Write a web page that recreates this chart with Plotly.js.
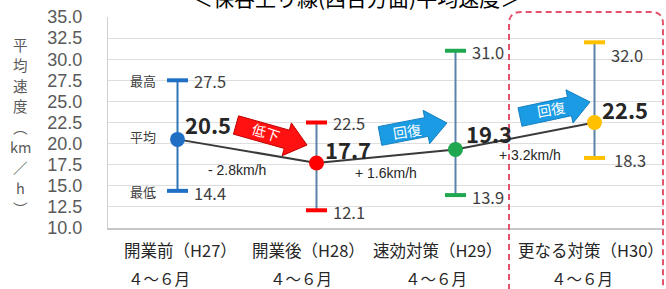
<!DOCTYPE html>
<html><head><meta charset="utf-8">
<script src="https://cdn.plot.ly/plotly-3.0.1.min.js"></script>
<style>html,body{margin:0;padding:0;background:#fff;}#chart{width:666px;height:289px;}</style>
</head><body><div id="chart"></div>
<script>
// ---- data ----
const categories = ['開業前（H27）', '開業後（H28）', '速効対策（H29）', '更なる対策（H30）'];
const periods = ['４～６月', '４～６月', '４～６月', '４～６月'];
const avgSpeed = [20.5, 17.7, 19.3, 22.5];
const maxSpeed = [27.5, 22.5, 31.0, 32.0];
const minSpeed = [14.4, 12.1, 13.9, 18.3];
const changeLabels = ['- 2.8km/h', '+ 1.6km/h', '+ 3.2km/h'];
const arrowLabels = ['低下', '回復', '回復'];
const yTickVals = [10, 12.5, 15, 17.5, 20, 22.5, 25, 27.5, 30, 32.5, 35];
const titleText = '＜保谷上り線(西台方面)平均速度＞';
const yTitleChars = ['平', '均', '速', '度', '︵', 'km', '／', 'h', '︶'];

// ---- styles ----
const FONT = '"Noto Sans CJK JP", "Noto Sans", sans-serif';
const pointColors = ['#1f6fc5', '#ff0000', '#1fa84f', '#ffc000'];
const stemColors = ['#2e75b6', '#5b82ab', '#5b82ab', '#5b82ab'];
const L = 108, T = 17, W = 556, H = 211;
const X0 = -0.5, X1 = 3.5, Y0 = 10, Y1 = 35;
const px2x = p => X0 + (p - L) / W * (X1 - X0);
const py2y = p => Y0 + (T + H - p) / H * (Y1 - Y0);

const idx = categories.map((_, i) => i);
const traces = [];
idx.forEach(i => {
  traces.push({
    x: [i], y: [avgSpeed[i]], type: 'scatter', mode: 'markers',
    marker: {size: 1, color: 'rgba(0,0,0,0)'},
    error_y: {type: 'data', symmetric: false, array: [maxSpeed[i] - avgSpeed[i]],
      arrayminus: [avgSpeed[i] - minSpeed[i]], color: stemColors[i], thickness: 2, width: 0},
    hoverinfo: 'skip', showlegend: false
  });
  traces.push({
    x: [i, i], y: [maxSpeed[i], minSpeed[i]], type: 'scatter', mode: 'markers',
    marker: {symbol: 'line-ew', size: 15, line: {color: pointColors[i], width: 4}},
    hoverinfo: 'skip', showlegend: false
  });
});
traces.push({
  x: idx, y: avgSpeed, type: 'scatter', mode: 'lines+markers',
  line: {color: '#3a3a3a', width: 2},
  marker: {size: 15, color: pointColors},
  showlegend: false
});

// arrows (pixel geometry -> data coords)
function arrowPath(tx, ty, hx, hy, w, hw, hl) {
  const dx = hx - tx, dy = hy - ty, len = Math.hypot(dx, dy);
  const ux = dx / len, uy = dy / len, nx = -uy, ny = ux;
  const kx = hx - ux * hl, ky = hy - uy * hl;
  const pts = [[tx + nx * w, ty + ny * w], [kx + nx * w, ky + ny * w], [kx + nx * hw, ky + ny * hw],
    [hx, hy], [kx - nx * hw, ky - ny * hw], [kx - nx * w, ky - ny * w], [tx - nx * w, ty - ny * w]];
  return 'M' + pts.map(p => px2x(p[0]).toFixed(4) + ',' + py2y(p[1]).toFixed(4)).join(' L') + ' Z';
}
const arrowGeom = [
  {t: [236, 125], h: [307, 145], fill: '#ff1111', line: '#c00000', text: [266, 132], ang: 18},
  {t: [380, 136], h: [447, 123], fill: '#1b9be3', line: '#1480c0', text: [407, 131], ang: -9},
  {t: [520, 117], h: [590, 102], fill: '#1b9be3', line: '#1480c0', text: [551, 109], ang: -10}
];
const shapes = arrowGeom.map(a => ({
  type: 'path', xref: 'x', yref: 'y', layer: 'above',
  path: arrowPath(a.t[0], a.t[1], a.h[0], a.h[1], 9.5, 17, 21),
  fillcolor: a.fill, line: {color: a.line, width: 1}
}));
// dashed rounded frame
(function () {
  const pxp = p => (p - L) / W, pyp = p => (T + H - p) / H;
  const l = 509, r = 663, t = 12, b = 320, rad = 12;
  const path = `M${pxp(l)},${pyp(b)} L${pxp(l)},${pyp(t + rad)} Q${pxp(l)},${pyp(t)} ${pxp(l + rad)},${pyp(t)} ` +
    `L${pxp(r - rad)},${pyp(t)} Q${pxp(r)},${pyp(t)} ${pxp(r)},${pyp(t + rad)} L${pxp(r)},${pyp(b)}`;
  shapes.push({type: 'path', xref: 'paper', yref: 'paper', path: path,
    line: {color: '#e4526c', width: 2, dash: '6px,4px'}, layer: 'above'});
})();

const ann = [];
const valFont = {family: FONT, size: 16.5, color: '#404040'};
const valShiftX = [5, 6, 8, 5], valShiftY = [15, 14, 17, 14];
const maxShiftY = [-1, 0, -1, -13];
idx.forEach(i => {
  ann.push({x: i, y: avgSpeed[i], text: '<b>' + avgSpeed[i].toFixed(1) + '</b>', showarrow: false,
    xanchor: 'left', yanchor: 'middle', xshift: valShiftX[i], yshift: valShiftY[i],
    font: {family: FONT, size: 22, color: '#262626'}});
  ann.push({x: i, y: maxSpeed[i], text: maxSpeed[i].toFixed(1), showarrow: false,
    xanchor: 'left', yanchor: 'middle', xshift: 14, yshift: maxShiftY[i], font: valFont});
  ann.push({x: i, y: minSpeed[i], text: minSpeed[i].toFixed(1), showarrow: false,
    xanchor: 'left', yanchor: 'middle', xshift: i === 3 ? 17 : 14, yshift: -2, font: valFont});
});
// left labels for first category
[['最高', maxSpeed[0], 0], ['平均', avgSpeed[0], 3], ['最低', minSpeed[0], -1]].forEach(d => {
  ann.push({x: 0, y: d[1], text: d[0], showarrow: false, xanchor: 'center', yanchor: 'middle',
    xshift: -35, yshift: d[2], font: {family: FONT, size: 13, color: '#404040'}});
});
// change labels
const chShiftX = [-10, 0, 5], chShiftY = [-19, -17, -19];
changeLabels.forEach((t, i) => {
  ann.push({x: i + 0.5, y: (avgSpeed[i] + avgSpeed[i + 1]) / 2, text: t, showarrow: false,
    xanchor: 'center', yanchor: 'middle', xshift: chShiftX[i], yshift: chShiftY[i],
    font: {family: 'Liberation Sans, Arial, sans-serif', size: 14, color: '#262626'}});
});
// arrow texts
arrowGeom.forEach((a, i) => {
  ann.push({x: px2x(a.text[0]), y: py2y(a.text[1]), text: arrowLabels[i], showarrow: false,
    textangle: a.ang, xanchor: 'center', yanchor: 'middle',
    font: {family: FONT, size: 14, color: '#ffffff'}});
});
// category labels
const line1Shift = [2.5, -8.5, -18.5, -3.5], line2Shift = [-18.5, -15.5, -19.5, -12.5];
idx.forEach(i => {
  ann.push({x: i, y: -0.104, yref: 'paper', text: categories[i], showarrow: false,
    xanchor: 'center', yanchor: 'middle', xshift: line1Shift[i],
    font: {family: FONT, size: 16.5, color: '#262626'}});
  ann.push({x: i, y: -0.237, yref: 'paper', text: periods[i], showarrow: false,
    xanchor: 'center', yanchor: 'middle', xshift: line2Shift[i],
    font: {family: FONT, size: 15.5, color: '#262626'}});
});
// y-axis title (vertical writing, one glyph per row)
yTitleChars.forEach((c, k) => {
  ann.push({xref: 'paper', yref: 'paper', x: (20 - L) / W, y: (T + H - (44 + 20.5 * k)) / H,
    text: c, showarrow: false, xanchor: 'center', yanchor: 'middle',
    font: {family: FONT, size: 14.5, color: '#595959'}});
});
// title
ann.push({xref: 'paper', yref: 'paper', x: (356 - L) / W, y: (T + H + 3) / H, text: titleText,
  showarrow: false, xanchor: 'center', yanchor: 'middle',
  font: {family: FONT, size: 21, color: '#000000'}});

const layout = {
  width: 666, height: 289,
  margin: {l: L, r: 666 - L - W, t: T, b: 289 - T - H},
  paper_bgcolor: '#ffffff', plot_bgcolor: '#ffffff',
  font: {family: FONT},
  xaxis: {range: [X0, X1], showgrid: false, zeroline: false, showticklabels: false,
    showline: true, linecolor: '#c8c8c8', linewidth: 1.5, fixedrange: true},
  yaxis: {range: [Y0, Y1], tickvals: yTickVals, tickformat: '.1f', showgrid: true,
    gridcolor: '#dedede', gridwidth: 1, zeroline: false, showline: true, linecolor: '#d0d0d0',
    ticks: 'outside', ticklen: 21, tickcolor: 'rgba(0,0,0,0)',
    tickfont: {family: '"Liberation Sans", Arial, sans-serif', size: 18, color: '#595959'}, fixedrange: true},
  shapes: shapes, annotations: ann, showlegend: false
};
Plotly.newPlot('chart', traces, layout, {displayModeBar: false, staticPlot: true});
</script></body></html>
